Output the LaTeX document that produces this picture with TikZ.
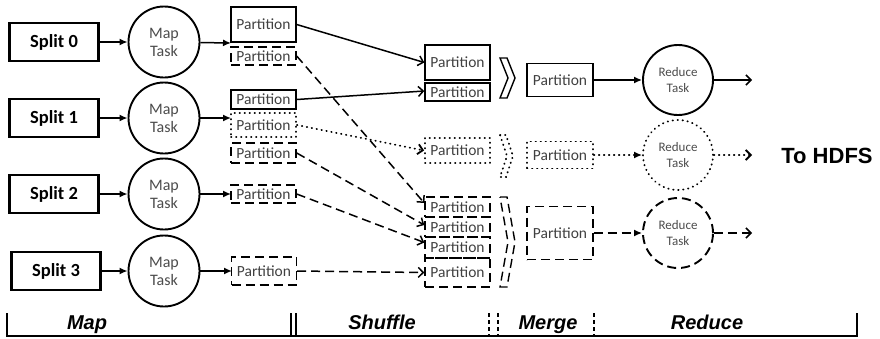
\documentclass[tikz,border=0pt]{standalone}
\usepackage{fontspec}
\setmainfont{Carlito}
\newfontfamily\arialf{Liberation Sans}
\usetikzlibrary{arrows.meta}
\begin{document}
\begin{tikzpicture}[x=1pt,y=-1pt,
  splitbox/.style={draw, line width=2.3pt, minimum width=89pt, minimum height=38pt, inner sep=0pt, font=\fontsize{18.5}{20}\selectfont\bfseries},
  task/.style={circle, draw, line width=1.9pt, minimum size=71pt, inner sep=0pt, align=center, text=black!70},
  maptask/.style={task, font=\fontsize{16}{18}\selectfont},
  redtask/.style={task, minimum size=70pt, font=\fontsize{13}{16}\selectfont},
  part/.style={draw, line width=1.4pt, minimum width=65pt, inner sep=0pt, text=black!75, font=\fontsize{15.5}{17}\selectfont},
  dsh/.style={dash pattern=on 9pt off 5pt},
  dts/.style={line cap=round, dash pattern=on 0.5pt off 4.5pt, line width=1.8pt},
  conn/.style={line width=1.5pt},
  filltip/.style={-{Latex[length=8pt,width=7pt]}},
  opentip/.style={-{Straight Barb[length=5pt,width=10pt]}},
  phase/.style={font=\arialf\bfseries\itshape\fontsize{20}{22}\selectfont, anchor=base, inner sep=0pt},
  axis/.style={line width=1.3pt},
]
\useasboundingbox (0,0) rectangle (880,338);

% Splits
\node[splitbox] (s0) at (54,42) {Split 0};
\node[splitbox] (s1) at (54,118) {Split 1};
\node[splitbox] (s2) at (54,194) {Split 2};
\node[splitbox] (s3) at (56,271) {Split 3};

% Map tasks
\node[maptask] (m0) at (164,42) {Map\\Task};
\node[maptask] (m1) at (164,118) {Map\\Task};
\node[maptask] (m2) at (164,194) {Map\\Task};
\node[maptask] (m3) at (164,271) {Map\\Task};

\foreach \i in {0,1,2,3} {\draw[conn, filltip] (s\i) -- (m\i);}

\coordinate (a0) at (231,43);
\coordinate (a1) at (231,118);
\coordinate (a2) at (231,194);
\coordinate (a3) at (232,271);
\foreach \i in {0,1,2,3} {\draw[conn, filltip] (m\i) -- (a\i);}

% Map output partitions
\node[part, minimum height=35pt] (p0a) at (263.5,24.5) {Partition};
\node[part, dsh, minimum height=18pt] (p0b) at (263.5,56) {Partition};
\node[part, minimum height=19pt] (p1a) at (263.5,99.5) {Partition};
\node[part, dts, minimum height=24pt] (p1b) at (263.5,125) {Partition};
\node[part, dsh, minimum height=20pt] (p1c) at (263.5,153) {Partition};
\node[part, dsh, minimum height=18pt] (p2) at (263.5,194) {Partition};
\node[part, dsh, minimum height=28pt] (p3) at (264,271) {Partition};

% Shuffle partitions
\node[part, minimum height=35pt] (q0a) at (457.5,62.5) {Partition};
\node[part, minimum height=18pt] (q0b) at (457.5,92) {Partition};
\node[part, dts, minimum height=25pt] (q1) at (457.5,150.5) {Partition};
\node[part, dsh, minimum height=20pt] (q2a) at (457.5,207) {Partition};
\node[part, dsh, minimum height=20pt] (q2b) at (457.5,227) {Partition};
\node[part, dsh, minimum height=21pt] (q2c) at (457.5,247.5) {Partition};
\node[part, dsh, minimum height=29pt] (q2d) at (457.5,272.5) {Partition};

% Shuffle connectors
\draw[conn, opentip] (p0a.east) -- (q0a.west);
\draw[conn, opentip] (p1a.east) -- ([yshift=1pt]q0b.west);
\draw[conn, dts, opentip] (p1b.east) -- (q1.west);
\draw[conn, dsh, opentip] (p0b.east) -- ([yshift=4pt]q2a.west);
\draw[conn, dsh, opentip] (p1c.east) -- ([yshift=2pt]q2b.west);
\draw[conn, dsh, opentip] (p2.east) -- ([yshift=5pt]q2c.west);
\draw[conn, dsh, opentip] (p3.east) -- (q2d.west);

% Chevrons
\draw[line width=1.4pt, line join=miter] (500,58) -- (507,58) -- (515,78) -- (507,98) -- (500,98) -- (508,78) -- cycle;
\draw[dts] (500,135) -- (506,135) -- (513,156) -- (506,177) -- (500,177) -- (507,156) -- cycle;
\draw[line width=1.4pt, dsh] (500,197) -- (507,197) -- (515,242) -- (507,287) -- (500,287) -- (508,242) -- cycle;

% Merge partitions
\node[part, minimum width=66pt, minimum height=33pt] (r0) at (560,80) {Partition};
\node[part, dts, minimum width=66pt, minimum height=27pt] (r1) at (560,155) {Partition};
\node[part, dsh, minimum width=66pt, minimum height=53pt] (r2) at (560,233) {Partition};

% Reduce tasks
\node[redtask] (t0) at (678,80) {Reduce\\Task};
\node[redtask, dts] (t1) at (678,155) {Reduce\\Task};
\node[redtask, dsh] (t2) at (678,233) {Reduce\\Task};

\draw[conn, filltip] (r0) -- (t0);
\draw[conn, dts, filltip] (r1) -- (t1);
\draw[conn, dsh, filltip] (r2) -- (t2);

\coordinate (o0) at (752,80);
\coordinate (o1) at (752,155);
\coordinate (o2) at (752,233);
\draw[conn, opentip] (t0) -- (o0);
\draw[conn, dts, opentip] (t1) -- (o1);
\draw[conn, dsh, opentip] (t2) -- (o2);

\node[font=\arialf\bfseries\fontsize{22}{24}\selectfont] (hdfs) at (827,156) {To HDFS};

% Phase axis
\draw[axis] (7,313) -- (7,336) -- (857,336) -- (857,313);
\draw[axis] (291,313) -- (291,336);
\draw[axis] (296,313) -- (296,336);
\draw[line width=1.1pt, dash pattern=on 4pt off 3pt] (489,313) -- (489,336);
\draw[line width=1.1pt, dash pattern=on 4pt off 3pt] (498,313) -- (498,336);
\draw[line width=1.1pt, dash pattern=on 4pt off 3pt] (594,313) -- (594,336);
\node[phase] (lmap) at (87,329) {Map};
\node[phase] (lshuffle) at (382,329) {Shuffle};
\node[phase] (lmerge) at (548,329) {Merge};
\node[phase] (lreduce) at (707,329) {Reduce};
\end{tikzpicture}
\end{document}
